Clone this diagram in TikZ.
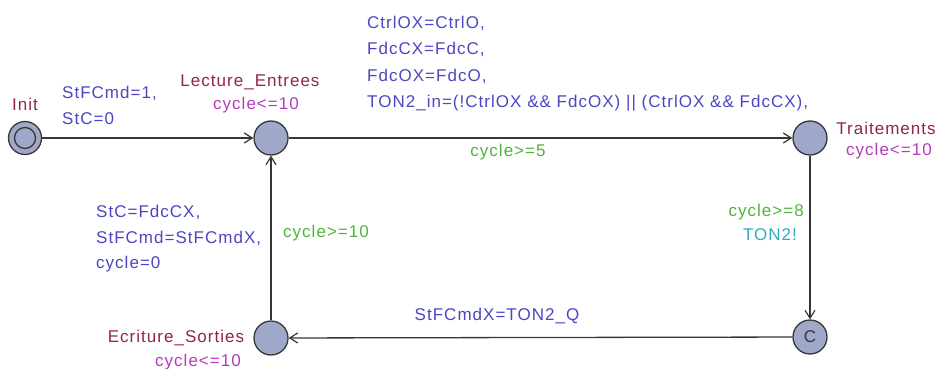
\documentclass[tikz,border=0pt]{standalone}
\usepackage{fontspec}
\setmainfont{Liberation Sans}[LetterSpace=6]
\usepackage{tikz}
\usetikzlibrary{arrows.meta}

\definecolor{locfill}{RGB}{160,168,202}
\definecolor{edgegray}{RGB}{55,55,55}
\definecolor{namecol}{RGB}{145,35,80}
\definecolor{invcol}{RGB}{180,60,190}
\definecolor{assigncol}{RGB}{75,70,195}
\definecolor{guardcol}{RGB}{80,180,60}
\definecolor{synccol}{RGB}{50,170,195}

\begin{document}
\begin{tikzpicture}[x=1pt, y=-1pt,
            loc/.style={circle, draw=edgegray, fill=locfill, line width=1.3pt, minimum size=34pt, inner sep=0pt},
            trans/.style={draw=edgegray, line width=1.3pt, -{Straight Barb[length=8pt, width=10pt, line width=1.2pt]}},
            lbl/.style={font=\fontsize{17}{25.5}\selectfont, inner sep=0pt, align=left},
            lname/.style={lbl, text=namecol},
            linv/.style={lbl, text=invcol},
            lassign/.style={lbl, text=assigncol},
            lguard/.style={lbl, text=guardcol},
            lsync/.style={lbl, text=synccol}
        ]
    \useasboundingbox (0,0) rectangle (939,369);

    \node[loc, minimum size=33pt] (init) at (25,138) {};
    \draw[edgegray, line width=1.3pt] (init.center) circle (10.5pt);
    \node[loc] (lect)  at (271,138) {};
    \node[loc] (trait) at (810,138) {};
    \node[loc, font=\fontsize{17}{20}\selectfont, text=edgegray] (comm) at (810,337) {C};
    \node[loc] (ecr)   at (271,338) {};

    \draw[trans] (init)  -- (lect);
    \draw[trans] (lect)  -- (trait);
    \draw[trans] (trait) -- (comm);
    \draw[trans] (comm)  -- (ecr);
    \draw[trans] (ecr)   -- (lect);

    \node[lname] (n_init)  at (25,104)  {Init};
    \node[lname] (n_lect)  at (250,82)  {Lecture\_Entrees};
    \node[linv]  (i_lect)  at (256,105) {cycle<=10};
    \node[lname] (n_trait) at (886,128) {Traitements};
    \node[linv]  (i_trait) at (889,151) {cycle<=10};
    \node[lname] (n_ecr)   at (176,338) {Ecriture\_Sorties};
    \node[linv]  (i_ecr)   at (198,362) {cycle<=10};

    \node[lassign, anchor=north west] (a_init) at (62,86) {StFCmd=1,\\StC=0};
    \node[lassign, anchor=north west, font=\fontsize{17}{26.3}\selectfont] (a_lect) at (367,16)
        {CtrlOX=CtrlO,\\FdcCX=FdcC,\\FdcOX=FdcO,\\TON2\_in=(!CtrlOX \&\& FdcOX) || (CtrlOX \&\& FdcCX),};
    \node[lguard] (g_lect) at (508,152) {cycle>=5};
    \node[lguard, anchor=east] (g_trait) at (804,212) {cycle>=8};
    \node[lsync] (s_trait) at (770,235) {TON2!};
    \node[lassign] (a_comm) at (497,316) {StFCmdX=TON2\_Q};
    \node[lassign, anchor=north west] (a_ecr) at (96,205) {StC=FdcCX,\\StFCmd=StFCmdX,\\cycle=0};
    \node[lguard, anchor=west] (g_ecr) at (283,233) {cycle>=10};

\end{tikzpicture}
\end{document}
